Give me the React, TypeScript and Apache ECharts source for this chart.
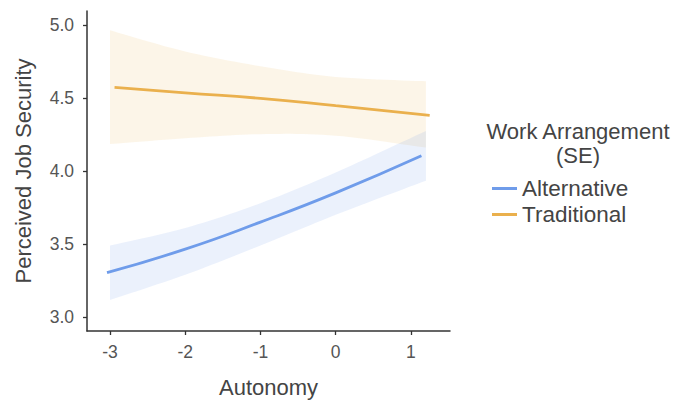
import React, { useEffect, useRef } from "react";
import * as echarts from "echarts";

// Axis ticks
const xTicks = [-3, -2, -1, 0, 1];
const yTicks = [3.0, 3.5, 4.0, 4.5, 5.0];

// Predicted lines per work arrangement
const altX = [-3.04, -2, -1, 0, 1.14];
const altY = [3.304, 3.465, 3.65, 3.85, 4.104];
const tradX = [-2.94, -2, -1, 0, 1.25];
const tradY = [4.573, 4.535, 4.497, 4.447, 4.381];

// Standard-error ribbons
const bandX = [-3, -2, -1, 0, 1.2];
const altLower = [3.118, 3.29, 3.49, 3.7, 3.934];
const altUpper = [3.49, 3.61, 3.78, 3.99, 4.274];
const tradLower = [4.184, 4.224, 4.252, 4.242, 4.16];
const tradUpper = [4.963, 4.818, 4.717, 4.644, 4.614];

const FONT = "'Liberation Sans', Arial, sans-serif";
const BLUE = "#6F9CEA";
const ORANGE = "#EAB04D";

// Catmull-Rom sampling in pixel space so the ribbon edges bend smoothly
function smoothEdge(pts: number[][], steps = 12): number[][] {
  const out: number[][] = [];
  for (let i = 0; i < pts.length - 1; i++) {
    const p0 = pts[Math.max(i - 1, 0)];
    const p1 = pts[i];
    const p2 = pts[i + 1];
    const p3 = pts[Math.min(i + 2, pts.length - 1)];
    for (let s = 0; s < steps; s++) {
      const t = s / steps;
      const t2 = t * t;
      const t3 = t2 * t;
      const f = (a: number, b: number, c: number, d: number) =>
        0.5 * (2 * b + (-a + c) * t + (2 * a - 5 * b + 4 * c - d) * t2 + (-a + 3 * b - 3 * c + d) * t3);
      out.push([f(p0[0], p1[0], p2[0], p3[0]), f(p0[1], p1[1], p2[1], p3[1])]);
    }
  }
  out.push(pts[pts.length - 1]);
  return out;
}

function ribbon(name: string, lower: number[], upper: number[], fill: string) {
  return {
    name,
    type: "custom",
    silent: true,
    z: 1,
    data: bandX.map((x, i) => [x, lower[i], upper[i]]),
    renderItem: (params: any, api: any) => {
      if (params.dataIndex !== 0) return null;
      const up = bandX.map((x, i) => api.coord([x, upper[i]]));
      const lo = bandX.map((x, i) => api.coord([x, lower[i]]));
      const pts = smoothEdge(up).concat(smoothEdge(lo).reverse());
      return {
        type: "polygon",
        shape: { points: pts },
        style: { fill, stroke: "none" },
      };
    },
  };
}

export default function App() {
  const ref = useRef<HTMLDivElement>(null);

  useEffect(() => {
    if (!ref.current) return;
    const chart = echarts.init(ref.current, undefined, { renderer: "svg" });
    chart.setOption({
      animation: false,
      backgroundColor: "#ffffff",
      grid: { left: 87, top: 11, width: 363, height: 322, containLabel: false },
      xAxis: {
        type: "value",
        min: -3.306,
        max: 1.52,
        name: "Autonomy",
        nameLocation: "middle",
        nameGap: 45,
        nameTextStyle: { fontFamily: FONT, fontSize: 22, color: "#444444" },
        axisLine: { show: true, onZero: false, lineStyle: { color: "#333333", width: 1.5 } },
        axisTick: { show: true, length: 4, customValues: xTicks, lineStyle: { color: "#333333", width: 1.3 } },
        axisLabel: {
          customValues: xTicks,
          margin: 12,
          fontFamily: FONT,
          fontSize: 17.5,
          color: "#555555",
        },
        splitLine: { show: false },
      },
      yAxis: {
        type: "value",
        min: 2.905,
        max: 5.095,
        name: "Perceived Job Security",
        nameLocation: "middle",
        nameGap: 53,
        nameTextStyle: { fontFamily: FONT, fontSize: 22, color: "#444444" },
        axisLine: { show: true, onZero: false, lineStyle: { color: "#333333", width: 1.5 } },
        axisTick: { show: true, length: 4, customValues: yTicks, lineStyle: { color: "#333333", width: 1.3 } },
        axisLabel: {
          customValues: yTicks,
          margin: 13,
          fontFamily: FONT,
          fontSize: 17.5,
          color: "#555555",
          formatter: (v: number) => v.toFixed(1),
        },
        splitLine: { show: false },
      },
      legend: {
        data: ["Alternative", "Traditional"],
        orient: "vertical",
        left: 487,
        top: 172,
        icon: "rect",
        itemWidth: 25,
        itemHeight: 3,
        itemGap: 3,
        textStyle: { fontFamily: FONT, fontSize: 22.5, color: "#444444" },
      },
      graphic: [
        {
          type: "text",
          x: 578,
          y: 119,
          style: {
            text: "Work Arrangement\n(SE)",
            textAlign: "center",
            textVerticalAlign: "top",
            lineHeight: 24,
            fontFamily: FONT,
            fontSize: 22,
            fill: "#444444",
          },
        },
      ],
      series: [
        ribbon("Traditional SE", tradLower, tradUpper, "rgba(234,176,77,0.13)"),
        ribbon("Alternative SE", altLower, altUpper, "rgba(111,156,234,0.14)"),
        {
          name: "Alternative",
          type: "line",
          smooth: true,
          symbol: "none",
          color: BLUE,
          lineStyle: { color: BLUE, width: 2.8 },
          data: altX.map((x, i) => [x, altY[i]]),
          z: 3,
        },
        {
          name: "Traditional",
          type: "line",
          smooth: true,
          symbol: "none",
          color: ORANGE,
          lineStyle: { color: ORANGE, width: 2.8 },
          data: tradX.map((x, i) => [x, tradY[i]]),
          z: 3,
        },
      ],
    });
    return () => chart.dispose();
  }, []);

  return <div ref={ref} style={{ position: "fixed", left: 0, top: 0, width: 680, height: 403 }} />;
}
